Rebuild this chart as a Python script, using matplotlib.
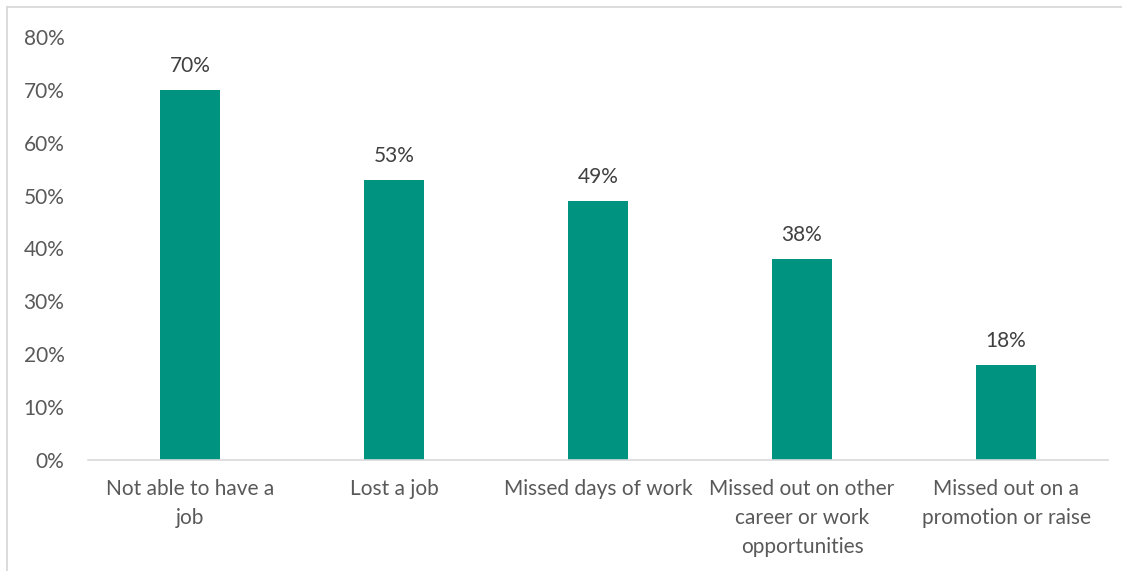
import matplotlib.pyplot as plt
from matplotlib.lines import Line2D
import numpy as np

plt.rcParams['font.family'] = ['Lato', 'DejaVu Sans']

categories = ['Not able to have a\njob', 'Lost a job', 'Missed days of work',
              'Missed out on other\ncareer or work\nopportunities',
              'Missed out on a\npromotion or raise']
values = [70, 53, 49, 38, 18]
yticks = [0, 10, 20, 30, 40, 50, 60, 70, 80]

W, H = 1122, 571
fig = plt.figure(figsize=(W / 100, H / 100), dpi=100)
# plot area in pixels: x 88..1108, y(0%)=460, y(80%)=37
ax = fig.add_axes([88 / W, 1 - 460 / H, (1108 - 88) / W, (460 - 37) / H])

# chart frame, cropped on the right and bottom
fy = 1 - 7 / H
fx = 6.5 / W
fig.add_artist(Line2D([fx, 1.0], [fy, fy], transform=fig.transFigure,
                      color='#d9d9d9', linewidth=1.3))
fig.add_artist(Line2D([fx, fx], [0, fy], transform=fig.transFigure,
                      color='#d9d9d9', linewidth=1.3))

x = np.arange(len(categories))
bars = ax.bar(x, values, width=0.29, color='#009480')
ax.set_xlim(-0.5, len(categories) - 0.5)
ax.set_ylim(0, 80)
ax.set_yticks(yticks)
ax.set_yticklabels([f'{v}%' for v in yticks])
ax.set_xticks(x)
ax.set_xticklabels(categories, linespacing=1.55)

for s in ['top', 'right', 'left']:
    ax.spines[s].set_visible(False)
ax.spines['bottom'].set_color('#d9d9d9')
ax.spines['bottom'].set_linewidth(1.2)
ax.tick_params(axis='both', length=0, labelsize=15, labelcolor='#595959')
ax.tick_params(axis='y', pad=17)
ax.tick_params(axis='x', pad=14)

for b, v in zip(bars, values):
    ax.text(b.get_x() + b.get_width() / 2, v + 2.6, f'{v}%', ha='center',
            va='bottom', fontsize=15, color='#404040')

fig.savefig('out.png', dpi=100)
